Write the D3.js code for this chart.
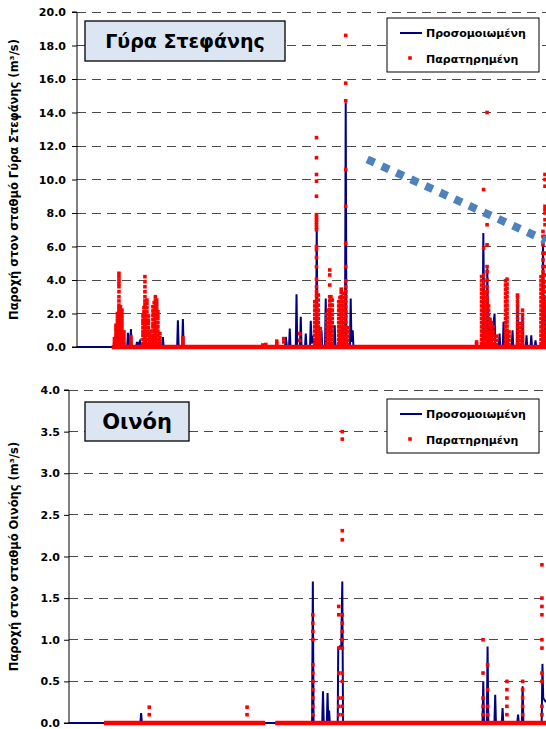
<!DOCTYPE html>
<html>
<head>
<meta charset="utf-8">
<script src="https://cdn.jsdelivr.net/npm/d3@7"></script>
<style>
  html, body { margin: 0; padding: 0; background: #fff; }
  svg { display: block; }
</style>
</head>
<body>
<svg id="chart" width="546" height="729"></svg>
<script>
// Simulated vs observed discharge, two stations (Γύρα Στεφάνης, Οινόη).
// Time axis is a day index over the simulation period (no labels in the original).

const dayDomain = [0, 1878];

// --- Γύρα Στεφάνης -------------------------------------------------------
const topTicks = [0, 2, 4, 6, 8, 10, 12, 14, 16, 18, 20];

// simulated series: [day, m3/s]
const simTop = [
  [0, 0], [161, 0], [164, 1.0], [167, 0], [201, 0], [204, 0.85], [208, 0.1], [212, 0.2], [216, 1.07], [219, 0],
  [237, 0], [240, 0.3], [244, 0.1], [252, 0.35], [256, 0], [273, 0], [276, 0.5], [279, 0],
  [301, 0], [304, 0.6], [307, 0], [325, 0], [328, 0.5], [331, 0], [341, 0], [344, 0.6], [347, 0],
  [401, 0], [404, 1.6], [407, 0], [421, 0], [424, 1.67], [427, 0],
  [833, 0], [836, 0.6], [840, 0.1], [849, 0], [852, 1.1], [855, 0], [876, 0], [879, 3.15], [882, 0],
  [893, 0], [896, 1.8], [899, 0], [913, 0], [916, 0.8], [919, 0], [933, 0], [936, 1.57], [940, 0.2], [944, 0.5],
  [957, 0], [960, 7.2], [963, 0], [976, 0], [979, 1.0], [982, 0], [993, 0], [996, 2.9], [999, 0],
  [1009, 0], [1012, 1.2], [1015, 0], [1029, 0], [1032, 1.3], [1035, 0], [1049, 0], [1052, 1.0], [1055, 0.2],
  [1064, 1.3], [1070, 0.4], [1073, 0], [1076, 14.6], [1079, 0], [1093, 0], [1096, 2.9], [1099, 0.3], [1104, 1.0], [1107, 0],
  [1624, 0], [1627, 6.8], [1631, 0.5], [1640, 0.4], [1643, 4.7], [1647, 0.3], [1656, 1.2], [1660, 0.2],
  [1672, 2.0], [1675, 0], [1689, 0], [1692, 0.8], [1695, 0], [1705, 0], [1708, 1.5], [1711, 0],
  [1721, 0], [1724, 0.6], [1727, 0], [1741, 0], [1744, 1.0], [1747, 0], [1761, 0], [1764, 3.0], [1767, 0],
  [1781, 0], [1784, 2.0], [1787, 0], [1797, 0], [1800, 0.7], [1803, 0], [1816, 0], [1819, 0.7], [1822, 0],
  [1833, 0], [1836, 0.4], [1839, 0], [1863, 0], [1866, 6.5], [1869, 1.5], [1872, 3.0], [1875, 0], [1878, 0]
];

// observed: runs of zero readings [fromDay, toDay]
const obsTopZero = [[139, 1878]];

// observed readings grouped by day: [day, [m3/s ...]]
const obsTop = [
  [150, [0.15, 0.3, 0.5]],
  [156, [0.18, 0.37, 0.55, 0.74, 0.95, 1.12, 1.3]],
  [162, [0.2, 0.4, 0.6, 0.8, 1.0, 1.2, 1.4, 1.6, 1.8, 2.0]],
  [168, [0.25, 0.45, 0.66, 0.86, 1.05, 1.24, 1.45, 1.63, 1.82, 2.0, 2.2, 2.35, 2.5, 2.75, 3.0, 3.3, 3.6, 3.8, 4.0, 4.2, 4.4]],
  [174, [0.2, 0.4, 0.6, 0.8, 1.0, 1.2, 1.4, 1.6, 1.8, 2.0, 2.2, 2.4]],
  [180, [0.2, 0.4, 0.58, 0.8, 1.0, 1.2, 1.4, 1.6, 1.8, 2.0, 2.2]],
  [188, [0.15, 0.3, 0.5, 0.7, 0.9]],
  [216, [0.2, 0.4, 0.6]],
  [264, [0.2, 0.45, 0.7, 0.9, 1.15, 1.4, 1.6, 1.85]],
  [268, [0.2, 0.45, 0.7, 0.9, 1.15, 1.4, 1.6, 1.85, 2.1, 2.35]],
  [272, [0.25, 0.5, 0.7, 0.95, 1.2, 1.4, 1.65, 1.9, 2.1, 2.35, 2.55, 2.75, 3.0, 3.3, 3.6, 3.9, 4.2]],
  [280, [0.2, 0.45, 0.7, 0.9, 1.15, 1.4, 1.6, 1.85, 2.1, 2.35, 2.6, 2.8]],
  [286, [0.2, 0.45, 0.7, 0.9, 1.15, 1.4, 1.6, 1.85]],
  [292, [0.15, 0.35, 0.55, 0.75, 0.95]],
  [304, [0.2, 0.45, 0.7, 0.95, 1.2, 1.4, 1.65, 1.9, 2.15, 2.4]],
  [309, [0.2, 0.45, 0.7, 0.95, 1.2, 1.4, 1.65, 1.9, 2.15, 2.4, 2.65]],
  [314, [0.25, 0.5, 0.75, 1.0, 1.2, 1.45, 1.7, 1.95, 2.2, 2.4, 2.6, 2.8, 3.0]],
  [319, [0.2, 0.45, 0.7, 0.95, 1.2, 1.45, 1.7, 1.95, 2.2, 2.4, 2.6, 2.8]],
  [324, [0.2, 0.45, 0.7, 0.95, 1.2, 1.45, 1.7, 1.9, 2.1]],
  [332, [0.15, 0.35, 0.55, 0.8]],
  [424, [0.2, 0.4, 0.55]],
  [744, [0.12]], [756, [0.15]], [800, [0.2, 0.35]], [828, [0.3, 0.5]], [892, [0.4, 0.8]],
  [952, [0.2, 0.45, 0.7, 0.95, 1.2, 1.45, 1.7, 1.95, 2.2, 2.45, 2.7]],
  [959, [0.3, 0.55, 0.8, 1.05, 1.3, 1.55, 1.8, 2.05, 2.3, 2.55, 2.8, 3.05, 3.3, 3.6, 4.05, 4.8, 5.35, 5.8, 6.0,
         7.0, 7.15, 7.3, 7.45, 7.6, 7.75, 7.9, 9.0, 9.9, 10.3, 11.3, 12.5]],
  [966, [0.2, 0.45, 0.7, 0.95, 1.2, 1.45, 1.7, 1.95, 2.2, 2.5, 2.8, 3.1]],
  [974, [0.15, 0.35, 0.6, 0.85, 1.1]],
  [1000, [0.2, 0.45, 0.7, 0.95, 1.2, 1.45, 1.7, 1.95]],
  [1006, [0.2, 0.45, 0.7, 0.95, 1.2, 1.45, 1.7, 1.95, 2.2]],
  [1012, [0.25, 0.5, 0.75, 1.0, 1.25, 1.5, 1.75, 2.0, 2.25, 2.5, 2.75, 3.0, 3.7, 4.3, 4.6]],
  [1017, [0.2, 0.45, 0.7, 0.95, 1.2, 1.45, 1.7, 1.95, 2.2, 2.5, 2.8, 3.0]],
  [1022, [0.2, 0.45, 0.7, 0.95, 1.2, 1.45, 1.7, 1.95, 2.2, 2.5, 2.8]],
  [1048, [0.2, 0.45, 0.7, 0.95, 1.2, 1.45, 1.7, 1.95, 2.2, 2.45, 2.7]],
  [1053, [0.2, 0.45, 0.7, 0.95, 1.2, 1.45, 1.7, 1.95, 2.2, 2.45, 2.7, 2.95]],
  [1058, [0.25, 0.5, 0.75, 1.0, 1.25, 1.5, 1.75, 2.0, 2.25, 2.5, 2.75, 3.0, 3.25, 3.45]],
  [1066, [0.2, 0.45, 0.7, 0.95, 1.2, 1.45, 1.7, 1.95, 2.2, 2.45, 2.7, 2.95, 3.2]],
  [1071, [0.2, 0.45, 0.7, 0.95, 1.2, 1.45, 1.7, 1.95, 2.2, 2.45, 2.7]],
  [1076, [0.3, 0.6, 0.9, 1.2, 1.5, 1.8, 2.1, 2.4, 2.7, 3.0, 3.3, 3.6, 3.95, 4.8, 6.2, 8.4, 10.6, 14.7, 15.75, 18.6]],
  [1084, [0.15, 0.4, 0.65, 0.9, 1.15]],
  [1600, [0.15, 0.3]],
  [1620, [0.2, 0.45, 0.7, 0.95, 1.2, 1.45, 1.7, 1.95, 2.2, 2.45, 2.7, 2.95, 3.2, 3.45, 3.7, 3.95, 4.2]],
  [1628, [0.25, 0.5, 0.75, 1.0, 1.25, 1.5, 1.75, 2.0, 2.25, 2.5, 2.75, 3.0, 3.3, 3.6, 3.9, 4.3, 5.9, 9.4]],
  [1635, [0.2, 0.45, 0.7, 0.95, 1.2, 1.45, 1.7, 1.95, 2.2, 2.45, 2.7, 2.95, 3.2]],
  [1642, [0.2, 0.45, 0.7, 0.95, 1.2, 1.45, 1.7, 1.95, 2.2, 2.45, 2.7, 2.95, 3.3, 3.6, 4.0, 4.5, 4.8, 6.1, 7.3, 14.0]],
  [1648, [0.2, 0.45, 0.7, 0.95, 1.2, 1.45, 1.7, 1.95, 2.2, 2.45]],
  [1654, [0.15, 0.4, 0.65, 0.9, 1.15, 1.4, 1.65]],
  [1660, [0.2, 0.45, 0.7, 0.95, 1.2, 1.45]],
  [1666, [0.2, 0.45, 0.7, 0.95, 1.2]],
  [1680, [0.15, 0.4, 0.65]],
  [1716, [0.2, 0.45, 0.7, 0.95, 1.2, 1.45, 1.7, 1.95, 2.2, 2.45, 2.7, 2.95, 3.2, 3.45, 3.7, 3.95]],
  [1722, [0.25, 0.5, 0.75, 1.0, 1.25, 1.5, 1.75, 2.0, 2.25, 2.5, 2.75, 3.0, 3.25, 3.5, 3.75, 4.05]],
  [1730, [0.15, 0.4, 0.65, 0.9]],
  [1764, [0.2, 0.45, 0.7, 0.95, 1.2, 1.45, 1.7, 1.95, 2.2, 2.45, 2.7, 2.95, 3.1]],
  [1772, [0.15, 0.4, 0.65, 0.9, 1.15, 1.4]],
  [1784, [0.2, 0.45, 0.7, 0.95, 1.2, 1.45, 1.7, 1.95, 2.2]],
  [1858, [0.2, 0.45, 0.7, 0.95, 1.2, 1.45, 1.7, 1.95, 2.2, 2.45, 2.7, 2.95, 3.2, 3.45, 3.7, 3.95, 4.2]],
  [1866, [0.25, 0.5, 0.75, 1.0, 1.25, 1.5, 1.75, 2.0, 2.25, 2.5, 2.75, 3.0, 3.25, 3.5, 3.75, 4.0, 4.25, 4.5,
          4.8, 5.2, 5.6, 6.1, 6.6, 6.9]],
  [1874, [0.2, 0.45, 0.7, 0.95, 1.2, 1.45, 1.7, 1.95, 2.2, 2.45, 2.7, 3.0, 3.3, 3.6, 3.9, 4.3, 4.8, 5.6, 6.6,
          7.3, 7.6, 8.0, 8.2, 8.4, 9.6, 10.0, 10.3]]
];

// hand-drawn decreasing trend annotation: [day, m3/s]
const trendTop = [[1162, 11.2], [1878, 6.35]];

// --- Οινόη ---------------------------------------------------------------
const bottomTicks = [0, 0.5, 1.0, 1.5, 2.0, 2.5, 3.0, 3.5, 4.0];

const simBottom = [
  [0, 0], [281, 0], [284, 0.12], [287, 0],
  [957, 0], [960, 1.70], [963, 0], [997, 0], [1000, 0.38], [1003, 0], [1015, 0], [1018, 0.36], [1021, 0], [1024, 0.15], [1027, 0],
  [1058, 0], [1060, 0.9], [1066, 0.92], [1072, 0.9], [1076, 1.70], [1079, 0],
  [1628, 0], [1631, 0.5], [1634, 0], [1645, 0], [1648, 0.92], [1651, 0], [1675, 0], [1678, 0.34], [1681, 0],
  [1704, 0], [1707, 0.18], [1710, 0], [1765, 0], [1768, 0.1], [1771, 0], [1783, 0], [1786, 0.44], [1789, 0],
  [1861, 0], [1864, 0.71], [1867, 0.3], [1878, 0.25]
];

const obsBottomZero = [[138, 772], [812, 1878]];

const obsBottom = [
  [316, [0.1, 0.19]],
  [701, [0.1, 0.19]],
  [960, [0.1, 0.2, 0.3, 0.4, 0.5, 0.6, 0.7, 1.0, 1.1, 1.2, 1.3]],
  [1062, [0.1, 0.2, 0.3, 0.6, 0.9, 1.3, 1.4]],
  [1076, [0.1, 0.2, 0.3, 0.5, 0.6, 0.9, 1.0, 1.1, 1.2, 1.3, 2.2, 2.31, 3.41, 3.5]],
  [1630, [0.1, 0.2, 0.3, 0.6, 1.0]],
  [1648, [0.1, 0.2, 0.4, 0.7]],
  [1724, [0.1, 0.2, 0.3, 0.4, 0.5]],
  [1786, [0.1, 0.2, 0.3, 0.4, 0.5]],
  [1862, [0.1, 0.2, 0.5, 0.6, 0.9, 1.0, 1.3, 1.4, 1.5, 1.9]]
];

const seriesNames = ["Προσομοιωμένη", "Παρατηρημένη"];

// ------------------------------------------------------------------------
const svg = d3.select("#chart");
const FONT = "'DejaVu Sans', 'Liberation Sans', sans-serif";
const SIM_COLOR = "#000080", OBS_COLOR = "#ff0000";

svg.append("rect").attr("width", 546).attr("height", 729).attr("fill", "#fff");

drawPanel({
  left: 77, right: 546, top: 12, bottom: 347,
  yDomain: [0, 20], ticks: topTicks, tickPad: 6,
  sim: simTop, obs: obsTop, zeros: obsTopZero, trend: trendTop,
  title: "Γύρα Στεφάνης", titleBox: [85, 21, 200, 40], titleSize: 19,
  yLabel: "Παροχή στον σταθμό Γύρα Στεφάνης (m³/s)", yLabelX: 14,
  legendBox: [387, 18, 152, 54]
});

drawPanel({
  left: 69, right: 546, top: 390, bottom: 723,
  yDomain: [0, 4], ticks: bottomTicks, tickPad: 4,
  sim: simBottom, obs: obsBottom, zeros: obsBottomZero, trend: null,
  title: "Οινόη", titleBox: [85, 402, 104, 39], titleSize: 21,
  yLabel: "Παροχή στον σταθμό Οινόης (m³/s)", yLabelX: 14,
  legendBox: [387, 399, 152, 54]
});

function drawPanel(p) {
  const x = d3.scaleLinear().domain(dayDomain).range([p.left, p.right]);
  const y = d3.scaleLinear().domain(p.yDomain).range([p.bottom, p.top]);
  const g = svg.append("g");

  // dashed gridlines
  g.append("g").selectAll("line")
    .data(p.ticks.filter(t => t > 0))
    .join("line")
    .attr("x1", p.left).attr("x2", p.right)
    .attr("y1", d => y(d)).attr("y2", d => y(d))
    .attr("stroke", "#4a4a4a").attr("stroke-width", 1)
    .attr("stroke-dasharray", "9,6")
    .attr("shape-rendering", "crispEdges");

  // y axis
  const yAxis = d3.axisLeft(y).tickValues(p.ticks).tickFormat(d3.format(".1f"))
    .tickSize(5).tickPadding(p.tickPad);
  g.append("g")
    .attr("transform", `translate(${p.left},0)`)
    .call(yAxis)
    .call(a => a.select(".domain").attr("stroke", "#000").attr("d", `M-5,${p.top}H0V${p.bottom}H-5`))
    .call(a => a.selectAll("line").attr("stroke", "#000"))
    .call(a => a.selectAll("text")
      .attr("fill", "#000").style("font-family", FONT)
      .style("font-size", "11px").style("font-weight", "bold"));

  // x axis baseline
  g.append("line")
    .attr("x1", p.left).attr("x2", p.right)
    .attr("y1", y(0)).attr("y2", y(0))
    .attr("stroke", "#000").attr("stroke-width", 1);

  // simulated
  const line = d3.line().x(d => x(d[0])).y(d => y(d[1]));
  g.append("path")
    .datum(p.sim)
    .attr("d", line)
    .attr("fill", "none")
    .attr("stroke", SIM_COLOR)
    .attr("stroke-width", 2)
    .attr("stroke-linejoin", "miter");

  // observed: zero runs (dense zero readings) then readings
  g.append("g").selectAll("line")
    .data(p.zeros)
    .join("line")
    .attr("x1", d => x(d[0])).attr("x2", d => x(d[1]))
    .attr("y1", y(0)).attr("y2", y(0))
    .attr("stroke", OBS_COLOR).attr("stroke-width", 4.5);

  const pts = p.obs.flatMap(([day, vals]) => vals.map(v => [day, v]));
  const ms = 3.6;
  g.append("g").selectAll("rect")
    .data(pts)
    .join("rect")
    .attr("x", d => x(d[0]) - ms / 2)
    .attr("y", d => y(d[1]) - ms / 2)
    .attr("width", ms).attr("height", ms)
    .attr("fill", OBS_COLOR);

  // trend annotation
  if (p.trend) {
    g.append("path")
      .datum(p.trend)
      .attr("d", line)
      .attr("fill", "none")
      .attr("stroke", "#4f81bd")
      .attr("stroke-width", 8)
      .attr("stroke-dasharray", "8,8");
  }

  // station title box
  const [bx, by, bw, bh] = p.titleBox;
  g.append("rect")
    .attr("x", bx).attr("y", by).attr("width", bw).attr("height", bh)
    .attr("fill", "#dce6f2").attr("stroke", "#000").attr("stroke-width", 1.3);
  g.append("text")
    .attr("x", bx + bw / 2).attr("y", by + bh / 2)
    .attr("dy", "0.36em")
    .attr("text-anchor", "middle")
    .style("font-family", FONT).style("font-size", p.titleSize + "px")
    .style("font-weight", "bold")
    .text(p.title);

  // y label
  g.append("text")
    .attr("transform", `translate(${p.yLabelX},${(p.top + p.bottom) / 2}) rotate(-90)`)
    .attr("text-anchor", "middle")
    .attr("dy", "0.35em")
    .style("font-family", FONT).style("font-size", "11.5px").style("font-weight", "bold")
    .text(p.yLabel);

  // legend
  const [lx, ly, lw, lh] = p.legendBox;
  const lg = g.append("g");
  lg.append("rect")
    .attr("x", lx).attr("y", ly).attr("width", lw).attr("height", lh)
    .attr("fill", "#fff").attr("stroke", "#000").attr("stroke-width", 1);
  lg.append("line")
    .attr("x1", lx + 13).attr("x2", lx + 35)
    .attr("y1", ly + 15).attr("y2", ly + 15)
    .attr("stroke", SIM_COLOR).attr("stroke-width", 2);
  lg.append("rect")
    .attr("x", lx + 23 - ms / 2).attr("y", ly + 40 - ms / 2)
    .attr("width", ms).attr("height", ms).attr("fill", OBS_COLOR);
  lg.selectAll("text.leg")
    .data(seriesNames)
    .join("text")
    .attr("class", "leg")
    .attr("x", lx + 39)
    .attr("y", (d, i) => ly + 15 + i * 26)
    .attr("dy", "0.36em")
    .style("font-family", FONT).style("font-size", "11px").style("font-weight", "bold")
    .text(d => d);
}
</script>
</body>
</html>
